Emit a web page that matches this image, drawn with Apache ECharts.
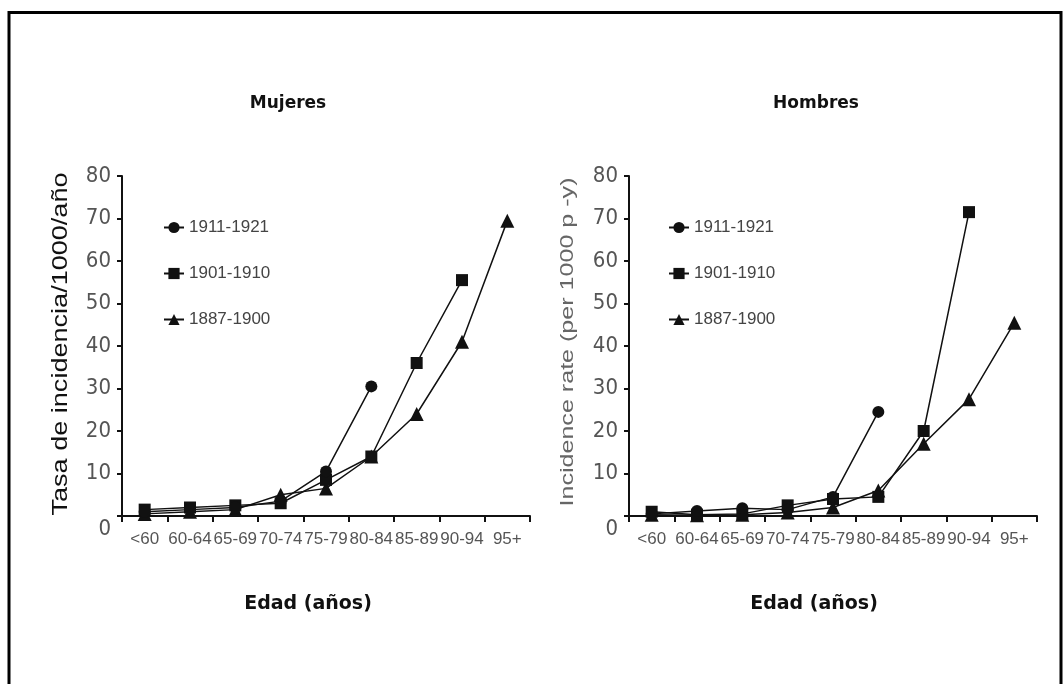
<!DOCTYPE html>
<html>
<head>
<meta charset="utf-8">
<title>Tasa de incidencia por edad y cohorte</title>
<script src="https://cdn.jsdelivr.net/npm/echarts@6/dist/echarts.min.js"></script>
<style>
  html, body { margin: 0; padding: 0; background: #fff; }
  #chart { width: 1064px; height: 684px; }
</style>
</head>
<body>
<div id="chart"></div>
<script>
// Age groups on the horizontal axis
const ageGroups = ['<60', '60-64', '65-69', '70-74', '75-79', '80-84', '85-89', '90-94', '95+'];
// Birth cohorts
const cohortNames = ['1911-1921', '1901-1910', '1887-1900'];

// Incidence per 1000 person-years, women
const womenRates1911 = [1, 1.5, 2, 3.5, 10.5, 30.5];
const womenRates1901 = [1.5, 2, 2.5, 3, 8.5, 14, 36, 55.5];
const womenRates1887 = [0.5, 1, 1.5, 5, 6.5, 14, 24, 41, 69.5];

// Incidence per 1000 person-years, men
const menRates1911 = [0.5, 1.2, 1.8, 1.5, 4.5, 24.5];
const menRates1901 = [1, 0.3, 0.5, 2.5, 4, 4.5, 20, 71.5];
const menRates1887 = [0.3, 0.2, 0.3, 0.8, 2, 6, 17, 27.5, 45.5];

// Vertical axis range
const rateMin = 0, rateMax = 80, rateStep = 10;

const panelTitles = ['Mujeres', 'Hombres'];
const xAxisTitle = 'Edad (años)';
const yAxisTitles = ['Tasa de incidencia/1000/año', 'Incidence rate (per 1000 p -y)'];

const symbols = ['circle', 'rect', 'triangle'];
const symbolSizes = [12, 12, 14];
const ink = '#111';
const tickFont = "'Liberation Sans Narrow', 'DejaVu Sans Condensed', 'Liberation Sans', Arial, sans-serif";
const labelFont = "'Liberation Sans', Arial, sans-serif";

const grids = [
  { left: 122, top: 176, width: 408, height: 340 },
  { left: 629, top: 176, width: 408, height: 340 }
];

function xAxisFor(i) {
  return {
    type: 'category', gridIndex: i, data: ageGroups, boundaryGap: true,
    axisLine: { lineStyle: { color: ink, width: 2 } },
    axisTick: { show: true, length: 6, alignWithLabel: false, lineStyle: { color: ink, width: 2 } },
    axisLabel: { interval: 0, margin: 15, color: '#555', fontFamily: labelFont, fontSize: 17 },
    splitLine: { show: false }
  };
}
function yAxisFor(i) {
  return {
    type: 'value', gridIndex: i, min: rateMin, max: rateMax, interval: rateStep,
    axisLine: { show: true, lineStyle: { color: ink, width: 2 } },
    axisTick: { show: true, length: 5, lineStyle: { color: ink, width: 2 } },
    axisLabel: {
      margin: 11, color: '#555', fontFamily: tickFont, fontSize: 22,
      formatter: v => v === 0 ? '{z|0}' : String(v),
      rich: { z: { fontFamily: tickFont, fontSize: 22, color: '#555', padding: [26, 0, 0, 0] } }
    },
    splitLine: { show: false }
  };
}
function lineSeries(name, data, k, i) {
  return {
    type: 'line', name, data, xAxisIndex: i, yAxisIndex: i,
    symbol: symbols[k], symbolSize: symbolSizes[k],
    lineStyle: { color: ink, width: 1.5 },
    itemStyle: { color: ink },
    z: 3 - k,
    animation: false
  };
}
function legendFor(i, left) {
  return {
    orient: 'vertical', left, top: 214,
    data: cohortNames,
    itemWidth: 20, itemHeight: 14, itemGap: 29,
    textStyle: { color: '#444', fontFamily: labelFont, fontSize: 17 },
    selectedMode: false
  };
}

const texts = [];
const titleCenters = [288, 816];
const xTitleCenters = [308, 814];
panelTitles.forEach((t, i) => {
  texts.push({ type: 'text', x: titleCenters[i], y: 104,
    style: { text: t, fill: '#111', font: "bold 17px 'DejaVu Sans', sans-serif", align: 'center', verticalAlign: 'middle' } });
  texts.push({ type: 'text', x: xTitleCenters[i], y: 604,
    style: { text: xAxisTitle, fill: '#111', font: "bold 19px 'DejaVu Sans', sans-serif", align: 'center', verticalAlign: 'middle' } });
});
texts.push({ type: 'text', x: 61, y: 344, rotation: Math.PI / 2, scaleX: 1.23,
  style: { text: yAxisTitles[0], fill: '#111', font: "22px 'Liberation Sans', Arial, sans-serif", align: 'center', verticalAlign: 'middle' } });
texts.push({ type: 'text', x: 568, y: 342, rotation: Math.PI / 2, scaleX: 1.32,
  style: { text: yAxisTitles[1], fill: '#666', font: "19px 'Liberation Sans', Arial, sans-serif", align: 'center', verticalAlign: 'middle' } });
// page frame
texts.push({ type: 'polyline', shape: { points: [[9, 700], [9, 12.5], [1061, 12.5], [1061, 700]] },
  style: { stroke: '#000', lineWidth: 3, fill: null } });

const chart = echarts.init(document.getElementById('chart'), null, { renderer: 'canvas' });
chart.setOption({
  backgroundColor: '#fff',
  animation: false,
  grid: grids,
  xAxis: [xAxisFor(0), xAxisFor(1)],
  yAxis: [yAxisFor(0), yAxisFor(1)],
  legend: [legendFor(0, 158), legendFor(1, 663)],
  series: [
    lineSeries(cohortNames[0], womenRates1911, 0, 0),
    lineSeries(cohortNames[1], womenRates1901, 1, 0),
    lineSeries(cohortNames[2], womenRates1887, 2, 0),
    lineSeries(cohortNames[0], menRates1911, 0, 1),
    lineSeries(cohortNames[1], menRates1901, 1, 1),
    lineSeries(cohortNames[2], menRates1887, 2, 1)
  ],
  graphic: texts
});
</script>
</body>
</html>
